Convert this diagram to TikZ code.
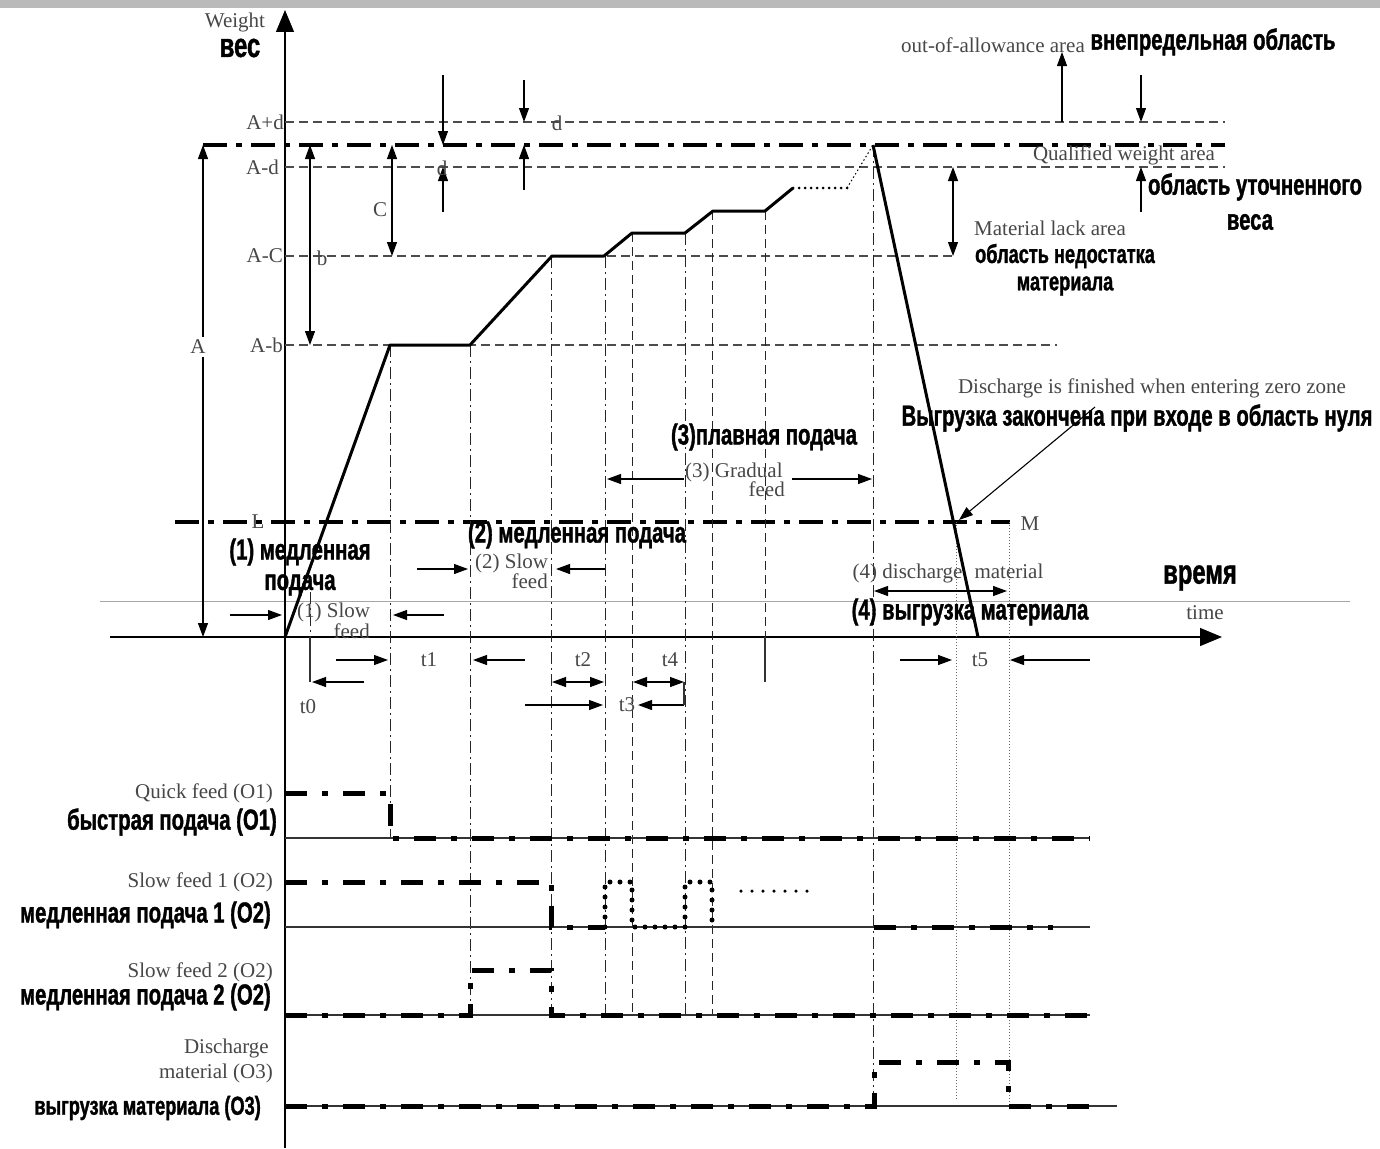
\documentclass[tikz,border=0pt]{standalone}
\usepackage{fontspec}
\setmainfont{Liberation Serif}
\newfontfamily\rufont[FakeStretch=0.70,FakeBold=1.2]{Liberation Sans}
\usetikzlibrary{arrows.meta}
\tikzset{
  en/.style={font=\fontsize{21}{23}\selectfont, text=black!72, inner sep=0pt},
  ru/.style={font=\rufont\bfseries\fontsize{29}{31}\selectfont, inner sep=0pt},
  rusm/.style={font=\rufont\bfseries\fontsize{26}{28}\selectfont, inner sep=0pt},
  rubig/.style={font=\rufont\bfseries\fontsize{34}{36}\selectfont, inner sep=0pt},
  thinln/.style={draw=black!80, line width=1.1pt},
  arr/.style={-{Triangle[length=14pt,width=10pt]}, line width=1.1pt},
  darr/.style={{Triangle[length=14pt,width=10pt]}-{Triangle[length=14pt,width=10pt]}, line width=1.1pt},
  lvl/.style={draw=black!70, line width=1.1pt, dash pattern=on 9pt off 5pt},
  thickdd/.style={line width=4.5pt, dash pattern=on 24pt off 9pt on 6pt off 9pt},
  sig/.style={line width=5pt, dash pattern=on 22pt off 15pt on 6pt off 15pt},
  sigdot/.style={line width=5pt, line cap=round, dash pattern=on 0pt off 10pt},
  vdd/.style={draw=black!85, line width=1pt, dash pattern=on 12pt off 4pt on 2pt off 4pt},
  vdash/.style={draw=black!85, line width=1pt, dash pattern=on 9pt off 5pt},
  vdot/.style={draw=black!60, line width=0.9pt, dash pattern=on 1pt off 2pt},
  wcurve/.style={line width=3pt, line join=round},
}
\begin{document}
\begin{tikzpicture}[x=1pt,y=-1pt]
\useasboundingbox (0,0) rectangle (1380,1148);
\fill[white] (0,0) rectangle (1380,1148);
\fill[black!27] (0,0) rectangle (1380,8);
\draw[black!35, line width=1pt] (100,601) -- (1350,601);

% axes
\draw[line width=1.2pt, -{Triangle[length=22pt,width=18pt]}] (285,1148) -- (285,10);
\draw[line width=1.2pt, -{Triangle[length=22pt,width=18pt]}] (110,637) -- (1222,637);

% levels
\draw[lvl] (285,122) -- (1225,122);
\draw[lvl] (285,167) -- (1225,167);
\draw[lvl] (285,256) -- (955,256);
\draw[lvl] (285,345) -- (1057,345);
\draw[thickdd] (203,145) -- (1225,145);
\draw[thickdd] (175,522) -- (1010,522);

% vertical guide lines
\draw[vdd] (390,345) -- (390,838);
\draw[vdd] (470,345) -- (470,1015);
\draw[vdd] (551,256) -- (551,1015);
\draw[vdd] (605,256) -- (605,1015);
\draw[vdash] (632,233) -- (632,1015);
\draw[vdd] (685,233) -- (685,1015);
\draw[vdash] (712,211) -- (712,1015);
\draw[vdash] (765,211) -- (765,637);
\draw[thinln] (765,637) -- (765,682);
\draw[vdd] (873,145) -- (873,1106);
\draw[vdot] (956,522) -- (956,1100);
\draw[vdot] (1009,522) -- (1009,1106);
\draw[thinln] (310,637) -- (310,682);
\draw[vdd] (310,592) -- (310,637);

% weight curve
\draw[wcurve] (285,637) -- (390,345) -- (470,345) -- (552,256) -- (604,256) -- (632,233) -- (685,233) -- (713,211) -- (765,211) -- (793,188);
\draw[line width=3pt, line cap=round, dash pattern=on 0pt off 6pt] (793,188) -- (847,188);
\draw[line width=1pt, dash pattern=on 1.5pt off 2.5pt] (847,188) -- (873,145);
\draw[wcurve] (873,145) -- (978,637);

% dimension arrows
\draw[darr] (203,145) -- (203,637);
\draw[darr] (310,145) -- (310,345);
\draw[darr] (392,145) -- (392,256);
\draw[arr] (443,75) -- (443,145);
\draw[arr] (443,212) -- (443,167);
\draw[arr] (524,80) -- (524,122);
\draw[arr] (524,190) -- (524,145);
\draw[arr] (1062,122) -- (1062,52);
\draw[arr] (1141,75) -- (1141,122);
\draw[arr] (1141,212) -- (1141,167);
\draw[darr] (953,167) -- (953,256);

% phase arrows
\draw[arr] (230,615) -- (282,615);
\draw[arr] (444,615) -- (393,615);
\draw[arr] (417,569) -- (468,569);
\draw[arr] (605,569) -- (556,569);
\draw[arr] (684,479) -- (607,479);
\draw[arr] (792,479) -- (872,479);
\draw[darr] (874,591) -- (1007,591);
\draw[arr] (1095,407) -- (959,520);

% time arrows
\draw[arr] (336,660) -- (388,660);
\draw[arr] (364,682) -- (312,682);
\draw[arr] (525,660) -- (473,660);
\draw[darr] (552,682) -- (604,682);
\draw[darr] (633,682) -- (684,682);
\draw[arr] (525,705) -- (603,705);
\draw[arr] (684,705) -- (638,705);
\draw[thinln] (684,682) -- (684,705);
\draw[arr] (900,660) -- (952,660);
\draw[arr] (1090,660) -- (1010,660);

% signal baselines
\draw[thinln] (285,838) -- (1090,838);
\draw[thinln] (285,927) -- (1090,927);
\draw[thinln] (285,1015) -- (1090,1015);
\draw[thinln] (285,1106) -- (1117,1106);

% signals
\draw[sig] (285,793) -- (390,793) -- (390,838) -- (1090,838);
\draw[sig] (285,882) -- (551,882) -- (551,927) -- (605,927);
\draw[sigdot] (605,927) -- (605,882) -- (632,882) -- (632,927) -- (685,927) -- (685,882) -- (712,882) -- (712,927);
\draw[line width=3.5pt, line cap=round, dash pattern=on 0pt off 11pt] (741,891) -- (808,891);
\draw[sig] (874,927) -- (1053,927);
\draw[sig] (285,1015) -- (470,1015) -- (470,970) -- (551,970) -- (551,1015) -- (1090,1015);
\draw[sig] (285,1106) -- (874,1106) -- (874,1062) -- (1008,1062) -- (1008,1106) -- (1090,1106);

% English labels
\node[en] (lw) at (235,22) {Weight};
\node[en, anchor=east] (lapd) at (284,122) {A+d};
\node[en, anchor=east] (lamd) at (279,167) {A-d};
\node[en, anchor=east] (lamc) at (283,256) {A-C};
\node[en, anchor=east] (lamb) at (283,345) {A-b};
\node[en, fill=white, inner sep=3pt] (la) at (198,347) {A};
\node[en] (lb) at (322,258) {b};
\node[en] (lc) at (380,210) {C};
\node[en] (ld1) at (442,168) {d};
\node[en] (ld2) at (557,123) {d};
\node[en] (ll) at (258,522) {L};
\node[en] (lm) at (1030,524) {M};
\node[en] (lout) at (993,45) {out-of-allowance area};
\node[en] (lqual) at (1124,155) {Qualified weight area};
\node[en] (llack) at (1050,228) {Material lack area};
\node[en] (ldis) at (1152,388) {Discharge is finished when entering zero zone};
\node[en, anchor=west] (ls1) at (297,612) {(1) Slow};
\node[en, anchor=east] (ls1b) at (370,631) {feed};
\node[en, anchor=west] (ls2) at (475,563) {(2) Slow};
\node[en, anchor=east] (ls2b) at (548,581) {feed};
\node[en, anchor=west] (lg) at (685,472) {(3) Gradual};
\node[en, anchor=east] (lgb) at (785,489) {feed};
\node[en] (l4) at (948,573) {(4) discharge\hspace{12pt}material};
\node[en] (ltime) at (1205,613) {time};
\node[en] (t0) at (308,707) {t0};
\node[en] (t1) at (429,660) {t1};
\node[en] (t2) at (583,660) {t2};
\node[en] (t4) at (670,660) {t4};
\node[en] (t3) at (627,705) {t3};
\node[en] (t5) at (980,660) {t5};
\node[en, anchor=east] (lq) at (273,793) {Quick feed (O1)};
\node[en, anchor=east] (lsf1) at (273,882) {Slow feed 1 (O2)};
\node[en, anchor=east] (lsf2) at (273,972) {Slow feed 2 (O2)};
\node[en, anchor=east] (ldm1) at (269,1048) {Discharge};
\node[en, anchor=east] (ldm2) at (273,1073) {material (O3)};

% Russian labels
\node[rubig] (rves) at (240,48) {вес};
\node[ru] (rout) at (1213,42) {внепредельная область};
\node[ru] (rq1) at (1255,187) {область уточненного};
\node[ru] (rq2) at (1250,222) {веса};
\node[rusm] (rl1) at (1065,256) {область недостатка};
\node[rusm] (rl2) at (1065,286) {материала};
\node[ru] (rdis) at (1137,418) {Выгрузка закончена при входе в область нуля};
\node[ru] (r3) at (764,437) {(3)плавная подача};
\node[ru] (r2) at (577,535) {(2) медленная подача};
\node[ru] (r1a) at (300,552) {(1) медленная};
\node[ru] (r1b) at (300,585) {подача};
\node[rubig] (rtime) at (1200,578) {время};
\node[ru] (r4) at (970,612) {(4) выгрузка материала};
\node[ru, anchor=east] (rq) at (277,822) {быстрая подача (O1)};
\node[ru, anchor=east] (rsf1) at (271,915) {медленная подача 1 (O2)};
\node[ru, anchor=east] (rsf2) at (271,997) {медленная подача 2 (O2)};
\node[rusm, anchor=east] (rdm) at (261,1108) {выгрузка материала (O3)};
\end{tikzpicture}
\end{document}
